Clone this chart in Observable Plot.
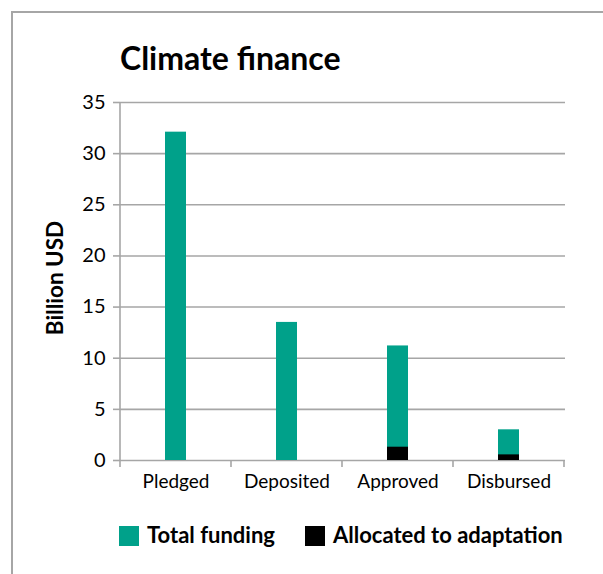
<!DOCTYPE html>
<html>
<head>
<meta charset="utf-8">
<script src="https://cdn.jsdelivr.net/npm/d3@7"></script>
<script src="https://cdn.jsdelivr.net/npm/@observablehq/plot@0.6"></script>
<style>
  html, body { margin: 0; padding: 0; background: #fff; }
  #chart { width: 603px; height: 574px; overflow: hidden; }
</style>
</head>
<body>
<div id="chart"></div>
<script>
const categories = ["Pledged", "Deposited", "Approved", "Disbursed"];
const totalFunding = [32.1, 13.5, 11.2, 3.0];
const adaptation = [0, 0, 1.3, 0.55];
const yTicks = [0, 5, 10, 15, 20, 25, 30, 35];
const seriesNames = ["Total funding", "Allocated to adaptation"];
const seriesColors = ["#00a18a", "#000000"];
const titleText = "Climate finance";
const yLabel = "Billion USD";

const data = categories.map((c, i) => ({category: c, total: totalFunding[i], adapt: adaptation[i]}));
const gray = "#a6a6a6";
const font = "Lato, 'Open Sans', sans-serif";

const plot = Plot.plot({
  width: 603, height: 574,
  marginLeft: 120, marginRight: 38, marginTop: 102, marginBottom: 114,
  style: {fontFamily: font, fontSize: "19px", color: "#000", background: "#fff", overflow: "hidden"},
  x: {domain: categories, paddingInner: 0.81, paddingOuter: 0.405, label: null},
  y: {domain: [0, 35], ticks: yTicks, label: null},
  marks: [
    Plot.ruleY(yTicks, {stroke: gray, strokeWidth: 1.6}),
    Plot.barY(data, {x: "category", y: "total", fill: seriesColors[0]}),
    Plot.barY(data.filter(d => d.adapt > 0), {x: "category", y: "adapt", fill: seriesColors[1]}),
    Plot.axisY({ticks: yTicks, tickSize: 7, tickPadding: 8, stroke: gray, strokeWidth: 1.6, fill: "#000", fontSize: 20, label: null}),
    Plot.axisX({tickSize: 0, tickPadding: 14, fill: "#000", fontSize: 19, label: null})
  ]
});
document.getElementById("chart").appendChild(plot);

const svg = d3.select(plot);
const xs = plot.scale("x"), ys = plot.scale("y");
const y0 = ys.apply(0), yTop = ys.apply(35);
const step = xs.step;
// y axis line
svg.append("line").attr("x1", 120).attr("x2", 120).attr("y1", yTop).attr("y2", y0)
  .attr("stroke", gray).attr("stroke-width", 1.6);
// x category boundary ticks
const bounds = categories.map(c => xs.apply(c) + xs.bandwidth / 2 - step / 2);
bounds.push(xs.apply(categories[categories.length - 1]) + xs.bandwidth / 2 + step / 2);
bounds.forEach(b => svg.append("line").attr("x1", b).attr("x2", b).attr("y1", y0).attr("y2", y0 + 7)
  .attr("stroke", gray).attr("stroke-width", 1.6));
// title
svg.append("text").attr("x", 120).attr("y", 70).attr("text-anchor", "start").text(titleText)
  .attr("font-family", font).attr("font-weight", "bold").attr("font-size", 32).attr("fill", "#000");
// y label
svg.append("text").attr("transform", `translate(63,${(y0 + yTop) / 2 - 3}) rotate(-90)`)
  .attr("text-anchor", "middle").text(yLabel)
  .attr("font-family", font).attr("font-weight", "bold").attr("font-size", 22.5).attr("fill", "#000");
// legend
const legendX = [119, 305];
seriesNames.forEach((n, i) => {
  svg.append("rect").attr("x", legendX[i]).attr("y", 526).attr("width", 20).attr("height", 20).attr("fill", seriesColors[i]);
  svg.append("text").attr("x", legendX[i] + 28).attr("y", 543).attr("text-anchor", "start").text(n)
    .attr("font-family", font).attr("font-weight", "bold").attr("font-size", 22).attr("fill", "#000");
});
// outer border
svg.append("rect").attr("x", 12).attr("y", 12).attr("width", 800).attr("height", 800)
  .attr("fill", "none").attr("stroke", gray).attr("stroke-width", 2);
</script>
</body>
</html>
